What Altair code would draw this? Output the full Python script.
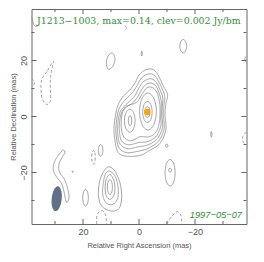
import altair as alt
import pandas as pd

# ---------------- data (mas) ----------------
TITLE = "J1213\u22121003, max=0.14, clev=0.002 Jy/bm"
DATE = "1997\u221205\u221207"

x_major_ticks = [-20, 0, 20]
x_minor_ticks = [-30, -10, 10, 30]

peak = [(-3.0, 1.6)]
beam = [(29.4, -29.4)]

# core region, outer common contours
core_c1 = [(-5.0, 16.8), (-6.6, 15.2), (-8.6, 11.1), (-10.2, 7.8), (-9.6, 4.5), (-9.3, 0.5), (-9.6, -4.6),
           (-7.5, -9.6), (-3.3, -12.4), (-0.4, -13.9), (4.4, -14.2), (7.4, -12.9), (8.6, -8.5), (8.9, -3.5),
           (8.0, 2.4), (6.8, 5.5), (5.0, 7.9), (3.2, 9.6), (1.4, 12.0), (0.25, 14.4), (-1.5, 16.2), (-3.2, 16.9)]
core_c2 = [(-5.0, 15.0), (-6.4, 13.6), (-8.0, 10.5), (-9.2, 7.2), (-8.9, 4.0), (-8.7, 0.3), (-9.0, -4.2),
           (-7.0, -8.8), (-3.2, -11.4), (0.3, -12.4), (4.3, -12.9), (7.0, -11.4), (8.0, -8.0), (8.2, -3.3),
           (7.4, 1.9), (6.0, 4.6), (4.0, 6.9), (2.2, 8.7), (0.6, 11.2), (-0.6, 13.4), (-2.2, 14.8), (-3.6, 15.2)]
core_c3 = [(-4.9, 13.3), (-6.2, 12.2), (-7.5, 9.6), (-8.5, 6.6), (-8.3, 3.5), (-8.2, 0.0), (-8.4, -3.9),
           (-6.6, -7.9), (-3.3, -10.1), (0.2, -10.8), (3.9, -11.5), (6.6, -10.1), (7.5, -7.2), (7.6, -3.0),
           (6.8, 1.5), (5.2, 3.7), (3.2, 5.6), (1.4, 7.6), (0.0, 10.2), (-1.4, 12.3), (-3.4, 13.4)]
core_c4 = [(-4.8, 11.8), (-6.0, 10.9), (-7.1, 8.6), (-7.9, 5.6), (-7.9, 2.4), (-7.8, -0.9), (-7.8, -3.4),
           (-6.2, -7.0), (-3.3, -8.9), (0.0, -9.3), (3.7, -10.1), (6.1, -8.9), (6.9, -6.2), (7.0, -2.6),
           (6.3, 1.2), (4.8, 3.1), (2.6, 4.6), (0.9, 6.4), (-0.6, 9.0), (-2.2, 11.2), (-3.6, 11.9)]
core_c5 = [(-4.6, 10.4), (-5.7, 9.6), (-6.8, 7.6), (-7.4, 4.6), (-7.5, 1.4), (-7.3, -1.8), (-6.6, -4.5),
           (-5.3, -6.4), (-3.2, -7.3), (-0.4, -7.2), (1.8, -8.3), (3.6, -8.6), (5.5, -7.2), (6.3, -4.4),
           (6.3, -1.2), (5.8, 1.8), (4.6, 3.6), (2.5, 4.4), (0.6, 5.3), (-1.0, 7.8), (-2.4, 9.9), (-3.6, 10.5)]
# core peak
core_k1 = [(-3.2, 8.4), (-5.3, 6.5), (-6.2, 1.8), (-5.3, -2.9), (-3.2, -4.8), (-1.1, -2.9), (-0.2, 1.8), (-1.1, 6.5)]
core_k2 = [(-3.0, 5.35), (-4.2, 4.25), (-4.7, 1.6), (-4.2, -1.05), (-3.0, -2.15), (-1.8, -1.05), (-1.3, 1.6), (-1.8, 4.25)]
core_k3 = [(-3.0, 3.6), (-3.64, 3.0), (-3.9, 1.6), (-3.64, 0.2), (-3.0, -0.4), (-2.36, 0.2), (-2.1, 1.6), (-2.36, 3.0)]
# secondary peak
sec_s1 = [(3.3, 2.6), (1.96, 1.4), (1.4, -1.5), (1.96, -4.4), (3.3, -5.6), (4.64, -4.4), (5.2, -1.5), (4.64, 1.4)]
sec_s2 = [(3.2, 0.3), (2.78, -0.23), (2.6, -1.5), (2.78, -2.77), (3.2, -3.3), (3.62, -2.77), (3.8, -1.5), (3.62, -0.23)]
# southern component
comp_1 = [(10.6, -18.0), (8.6, -19.5), (6.8, -23.7), (6.2, -28.5), (7.0, -32.6), (9.75, -33.8), (13.3, -32.0),
          (14.5, -27.9), (13.9, -22.5), (12.1, -18.9)]
comp_2 = [(10.5, -19.5), (8.6, -21.2), (7.5, -25.0), (7.6, -29.2), (9.4, -31.4), (11.8, -30.8), (13.0, -27.5),
          (12.6, -22.8), (11.8, -20.2)]
comp_3 = [(10.4, -20.7), (9.1, -22.5), (8.6, -25.2), (9.0, -28.2), (10.4, -29.6), (11.7, -28.3), (12.1, -25.0), (11.6, -22.2)]
comp_4 = [(10.4, -22.5), (9.7, -23.6), (9.5, -25.2), (9.7, -26.9), (10.4, -27.9), (11.1, -26.9), (11.3, -25.2), (11.1, -23.6)]
# small isolated contours
blob_n1 = [(9.4, 22.6), (8.7, 21.4), (8.7, 19.5), (9.6, 17.6), (10.9, 16.9), (11.6, 18.2), (11.5, 20.3), (10.6, 22.2)]
blob_n2 = [(-15.8, 27.5), (-16.65, 26.8), (-17.0, 25.1), (-16.65, 23.4), (-15.8, 22.7), (-14.95, 23.4), (-14.6, 25.1), (-14.95, 26.8)]
blob_n3 = [(-1.0, 23.4), (-1.2, 22.5), (-1.0, 21.6), (-0.8, 22.5)]
blob_e1 = [(-25.85, -5.4), (-26.1, -6.4), (-25.85, -7.4), (-25.6, -6.4)]
blob_s1 = [(-11.1, -15.35), (-12.37, -16.74), (-12.9, -20.1), (-12.37, -23.46), (-11.1, -24.85), (-9.83, -23.46),
           (-9.3, -20.1), (-9.83, -16.74)]
blob_s2 = [(-11.1, -18.4), (-11.6, -19.2), (-11.1, -20.0), (-10.6, -19.2)]
blob_s3 = [(-9.9, -9.8), (-10.35, -10.4), (-9.9, -11.0), (-9.45, -10.4)]
blob_w1 = [(19.1, -26.0), (18.4, -26.9), (18.1, -29.0), (18.4, -31.1), (19.1, -32.0), (19.8, -31.1), (20.1, -29.0), (19.8, -26.9)]
blob_w2 = [(13.7, -10.0), (13.13, -10.62), (12.9, -12.1), (13.13, -13.58), (13.7, -14.2), (14.27, -13.58), (14.5, -12.1), (14.27, -10.62)]
blob_w3 = [(23.7, -19.5), (23.45, -19.75), (23.7, -20.0), (23.95, -19.75)]
snake = [(27.3, -12.1), (29.3, -14.6), (30.5, -17.1), (30.5, -19.6), (29.3, -21.8), (27.7, -23.9), (26.8, -26.8),
         (26.25, -29.6), (25.7, -30.7), (25.0, -28.9), (25.4, -26.1), (26.6, -22.5), (28.4, -19.8), (28.6, -17.1),
         (27.5, -14.6), (26.4, -12.7)]
# negative (dashed) closed contours
neg_w1 = [(30.6, 19.75), (32.9, 16.1), (34.75, 13.2), (35.0, 9.6), (34.5, 6.1), (33.0, 4.3), (31.6, 5.7),
          (31.7, 10.4), (31.6, 14.3), (30.9, 17.9)]
neg_w2 = [(16.25, -12.2), (15.79, -12.9), (15.6, -14.6), (15.79, -16.3), (16.25, -17.0), (16.71, -16.3), (16.9, -14.6), (16.71, -12.9)]
# open arcs cut by the frame
arc_nw = [(38.4, 35.6), (37.9, 34.0), (37.5, 32.7), (36.7, 32.2), (35.9, 32.6)]
arc_ne = [(-38.4, 21.6), (-37.8, 20.5), (-38.4, 19.3)]
arc_n_neg = [(5.0, 32.4), (4.5, 31.7), (3.9, 31.9)]
arc_w_neg = [(38.4, 13.4), (37.5, 12.8), (37.4, 11.6), (38.4, 10.9)]
arc_e_neg = [(-38.4, -5.6), (-37.3, -6.6), (-37.0, -8.0), (-37.3, -9.3), (-38.4, -10.1)]
arc_s_neg = [(15.1, -38.4), (15.0, -35.2), (13.4, -33.6), (12.0, -35.0), (11.6, -38.4)]
arc_se_neg = [(-9.9, -38.4), (-11.6, -35.8), (-13.6, -34.0), (-15.0, -35.4), (-15.3, -38.4)]

closed_pos = [core_c1, core_c2, core_c3, core_c4, core_c5, core_k1, core_k2, core_k3, sec_s1, sec_s2,
              comp_1, comp_2, comp_3, comp_4, blob_n1, blob_n2, blob_n3, blob_e1, blob_s1, blob_s2, blob_s3,
              blob_w1, blob_w2, blob_w3, snake]
closed_neg = [neg_w1, neg_w2]
open_pos = [arc_nw, arc_ne]
open_neg = [arc_n_neg, arc_w_neg, arc_e_neg, arc_s_neg, arc_se_neg]


def table(groups, sign, tag):
    rows = []
    for k, pts in enumerate(groups):
        for i, (x, y) in enumerate(pts):
            rows.append({"cid": f"{tag}{k}", "i": i, "x": x, "y": y, "sign": sign})
    return rows


closed_df = pd.DataFrame(table(closed_pos, "pos", "cp") + table(closed_neg, "neg", "cn"))
open_df = pd.DataFrame(table(open_pos, "pos", "op") + table(open_neg, "neg", "on"))

# ---------------- styling ----------------
W = H = 215
LIM = 38.4
GREEN = "#2f8f35"
LINE = "#8a8a8a"
AX = "#555555"

xs = alt.Scale(domain=[LIM, -LIM], nice=False, zero=False)
ys = alt.Scale(domain=[-LIM, LIM], nice=False, zero=False)

X = alt.X("x:Q", scale=xs, title="Relative Right Ascension (mas)",
          axis=alt.Axis(values=x_major_ticks, ticks=False, domain=False, grid=False,
                        labelPadding=3, titlePadding=5, labelFontSize=9, titleFontSize=7.5))
Y = alt.Y("y:Q", scale=ys, title="Relative Declination (mas)",
          axis=alt.Axis(values=x_major_ticks, ticks=False, domain=False, grid=False, labelAngle=270,
                        labelAlign="center", labelBaseline="bottom",
                        labelPadding=3.5, titlePadding=1.5, labelFontSize=9, titleFontSize=7.5))

dash = alt.StrokeDash("sign:N", scale=alt.Scale(domain=["pos", "neg"], range=[[1, 0], [3, 2]]), legend=None)

closed_layer = alt.Chart(closed_df).mark_line(
    interpolate="cardinal-closed", clip=True, color=LINE, strokeWidth=0.8
).encode(x=X, y=Y, detail="cid:N", order="i:Q", strokeDash=dash)

open_layer = alt.Chart(open_df).mark_line(
    interpolate="cardinal", clip=True, color=LINE, strokeWidth=0.8
).encode(x=X, y=Y, detail="cid:N", order="i:Q", strokeDash=dash)

beam_df = pd.DataFrame(beam, columns=["x", "y"])
ELLIPSE = "M0,-1 A0.4,1 0 1,1 0,1 A0.4,1 0 1,1 0,-1 Z"
beam_layer = alt.Chart(beam_df).mark_point(
    shape=ELLIPSE, filled=True, size=625, angle=6, color="#5f7186", opacity=1, strokeWidth=0
).encode(x=X, y=Y)

peak_df = pd.DataFrame(peak, columns=["x", "y"])
peak_layer = alt.Chart(peak_df).mark_circle(size=42, color="#ffa500", opacity=1).encode(x=X, y=Y)


def tick_layer(vals, length, side):
    m = alt.Chart(pd.DataFrame({"x": vals, "y": vals})).mark_rule(color="#666666", strokeWidth=1)
    if side == "bottom":
        return m.encode(x=X, y=alt.value(H), y2=alt.value(H - length))
    if side == "top":
        return m.encode(x=X, y=alt.value(0), y2=alt.value(length))
    if side == "left":
        return m.encode(y=Y, x=alt.value(0), x2=alt.value(length))
    return m.encode(y=Y, x=alt.value(W), x2=alt.value(W - length))


ticks = []
for side in ["bottom", "top", "left", "right"]:
    ticks.append(tick_layer(x_major_ticks, 5, side))
    ticks.append(tick_layer(x_minor_ticks, 3, side))

title_layer = alt.Chart(pd.DataFrame({"t": [TITLE]})).mark_text(
    align="left", baseline="middle", font="DejaVu Serif", fontSize=9.4, color=GREEN
).encode(text="t:N", x=alt.value(5.5), y=alt.value(11.5))

date_layer = alt.Chart(pd.DataFrame({"t": [DATE]})).mark_text(
    align="right", baseline="middle", font="Liberation Sans", fontSize=9.3, fontStyle="italic", color=GREEN
).encode(text="t:N", x=alt.value(210.5), y=alt.value(205.5))

chart = alt.layer(
    closed_layer, open_layer, beam_layer, peak_layer, *ticks, title_layer, date_layer
).properties(
    width=W, height=H,
    autosize=alt.AutoSizeParams(type="none"),
    padding={"left": 23.5, "top": 1, "right": 8, "bottom": 32},
).configure_view(
    stroke="#666666", strokeWidth=1
).configure_axis(
    labelFont="Liberation Sans", titleFont="Liberation Sans", labelColor=AX, titleColor=AX,
    titleFontWeight="normal"
)

chart.save("out.html", embed_options={"renderer": "svg", "actions": False})
